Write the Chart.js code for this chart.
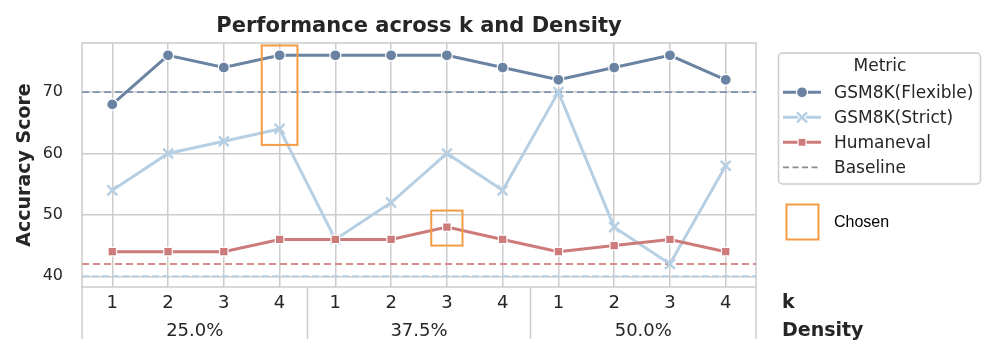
<!DOCTYPE html>
<html>
<head>
<meta charset="utf-8">
<script src="https://cdn.jsdelivr.net/npm/chart.js@4/dist/chart.umd.min.js"></script>
<style>
html,body{margin:0;padding:0;background:#fff;}
canvas{display:block;}
</style>
</head>
<body>
<canvas id="c" width="996" height="356"></canvas>
<script>
// ---- data ----
const kLabels = ['1','2','3','4','1','2','3','4','1','2','3','4'];
const densityLabels = ['25.0%','37.5%','50.0%'];
const seriesNames = ['GSM8K(Flexible)','GSM8K(Strict)','Humaneval'];
const flexible = [68,76,74,76,76,76,76,74,72,74,76,72];
const strict   = [54,60,62,64,46,52,60,54,70,48,42,58];
const humaneval= [44,44,44,46,46,46,48,46,44,45,46,44];
const baselineFlexible = 70;
const baselineStrict = 40;
const baselineHumaneval = 42;
const yTicks = [40,50,60,70];
// chosen boxes (data coordinates)
const chosenX0 = [2.68, 5.72];
const chosenX1 = [3.32, 6.28];
const chosenY0 = [61.4, 45.0];
const chosenY1 = [77.6, 50.7];

const X_MIN = -0.543, X_MAX = 11.543, Y_MIN = 38.25, Y_MAX = 78;
const C_FLEX = '#6a83a3', C_STRICT = '#b7cfe3', C_HUM = '#cd7a7a', C_ORANGE = '#f59b45';
const TXT = '#262626';
const FONT = "'DejaVu Sans', sans-serif";

const pts = arr => arr.map((v,i)=>({x:i,y:v}));
const hline = v => [{x:X_MIN,y:v},{x:X_MAX,y:v}];

const overlay = {
  id:'overlay',
  beforeDatasetsDraw(chart){
    const {ctx, chartArea:a} = chart;
    ctx.save();
    ctx.strokeStyle = '#cccccc'; ctx.lineWidth = 1.5;
    ctx.strokeRect(a.left, a.top, a.right-a.left, a.bottom-a.top);
    ctx.restore();
  },
  afterDatasetsDraw(chart){
    const {ctx, chartArea:a, scales:{x,y}} = chart;
    ctx.save();
    // chosen boxes
    ctx.strokeStyle = C_ORANGE; ctx.lineWidth = 2;
    for (let i=0;i<chosenX0.length;i++){
      const x0 = x.getPixelForValue(chosenX0[i]), x1 = x.getPixelForValue(chosenX1[i]);
      const y0 = y.getPixelForValue(chosenY1[i]), y1 = y.getPixelForValue(chosenY0[i]);
      ctx.strokeRect(x0, y0, x1-x0, y1-y0);
    }
    ctx.restore();
  },
  afterDraw(chart){
    const {ctx, chartArea:a, scales:{x,y}} = chart;
    ctx.save();
    ctx.fillStyle = TXT;
    // title
    ctx.font = `bold 21px ${FONT}`;
    ctx.textAlign = 'center'; ctx.textBaseline = 'alphabetic';
    ctx.fillText('Performance across k and Density', (a.left+a.right)/2, 32);
    // y axis title
    ctx.save();
    ctx.translate(25, (a.top+a.bottom)/2);
    ctx.rotate(-Math.PI/2);
    ctx.font = `bold 19px ${FONT}`;
    ctx.textBaseline = 'middle';
    ctx.fillText('Accuracy Score', 0, 0);
    ctx.restore();
    // k labels
    ctx.font = `18px ${FONT}`;
    ctx.textBaseline = 'middle'; ctx.textAlign = 'center';
    kLabels.forEach((t,i)=>ctx.fillText(t, x.getPixelForValue(i), 303));
    // density labels and separators
    const bounds = [a.left];
    for (let g=1; g<densityLabels.length; g++) bounds.push(x.getPixelForValue(g*4-0.5));
    bounds.push(a.right);
    ctx.strokeStyle = '#cccccc'; ctx.lineWidth = 1.5;
    bounds.forEach(b=>{ ctx.beginPath(); ctx.moveTo(b, a.bottom); ctx.lineTo(b, 339); ctx.stroke(); });
    densityLabels.forEach((t,g)=>ctx.fillText(t, (bounds[g]+bounds[g+1])/2, 331));
    // axis level names
    ctx.font = `bold 19px ${FONT}`; ctx.textAlign = 'left';
    ctx.fillText('k', 782, 303);
    ctx.fillText('Density', 782, 331);
    // legend box
    ctx.beginPath();
    ctx.roundRect(778.5, 53, 202, 131, 4);
    ctx.fillStyle = 'rgba(255,255,255,0.85)'; ctx.fill();
    ctx.strokeStyle = '#cccccc'; ctx.lineWidth = 1.5; ctx.stroke();
    ctx.fillStyle = TXT;
    ctx.font = `17px ${FONT}`; ctx.textAlign = 'center';
    ctx.fillText('Metric', 880, 67);
    const rows = [92.3, 117.3, 142.3, 167.3];
    const cols = [C_FLEX, C_STRICT, C_HUM, '#8c8c8c'];
    const names = seriesNames.concat(['Baseline']);
    rows.forEach((ry,i)=>{
      ctx.strokeStyle = cols[i];
      if (i===3){ ctx.setLineDash([6,3.5]); ctx.lineWidth = 1.8; } else { ctx.setLineDash([]); ctx.lineWidth = 3; }
      ctx.beginPath(); ctx.moveTo(783, ry); ctx.lineTo(821, ry); ctx.stroke();
      ctx.setLineDash([]);
      if (i===0){
        ctx.beginPath(); ctx.arc(802, ry, 5.5, 0, Math.PI*2);
        ctx.fillStyle = C_FLEX; ctx.fill(); ctx.strokeStyle='#fff'; ctx.lineWidth=1.2; ctx.stroke();
      } else if (i===1){
        ctx.strokeStyle='#fff'; ctx.lineWidth=4.5;
        ctx.beginPath(); ctx.moveTo(797,ry-5); ctx.lineTo(807,ry+5); ctx.moveTo(807,ry-5); ctx.lineTo(797,ry+5); ctx.stroke();
        ctx.strokeStyle=C_STRICT; ctx.lineWidth=2.5;
        ctx.beginPath(); ctx.moveTo(797,ry-5); ctx.lineTo(807,ry+5); ctx.moveTo(807,ry-5); ctx.lineTo(797,ry+5); ctx.stroke();
      } else if (i===2){
        ctx.fillStyle = C_HUM; ctx.fillRect(798, ry-4, 8, 8);
        ctx.strokeStyle='#fff'; ctx.lineWidth=1.2; ctx.strokeRect(798, ry-4, 8, 8);
      }
      ctx.fillStyle = TXT; ctx.font = `17px ${FONT}`; ctx.textAlign='left'; ctx.textBaseline='middle';
      ctx.fillText(names[i], 834, ry+1);
    });
    // chosen legend
    ctx.strokeStyle = C_ORANGE; ctx.lineWidth = 2;
    ctx.strokeRect(786.5, 204.5, 32, 35);
    ctx.fillStyle = '#000';
    ctx.font = "16px 'Liberation Sans', Arial, sans-serif";
    ctx.fillText('Chosen', 834, 223);
    ctx.restore();
  }
};

new Chart(document.getElementById('c'), {
  type:'line',
  data:{
    datasets:[
      {label:seriesNames[0], data:pts(flexible), borderColor:C_FLEX, backgroundColor:C_FLEX, borderWidth:3,
       pointStyle:'circle', pointRadius:5.5, pointBackgroundColor:C_FLEX, pointBorderColor:'#fff', pointBorderWidth:1.2, order:3},
      {label:seriesNames[1], data:pts(strict), borderColor:C_STRICT, backgroundColor:C_STRICT, borderWidth:3,
       pointStyle:'crossRot', pointRadius:7, pointBorderColor:C_STRICT, pointBorderWidth:2.5, order:2},
      {label:seriesNames[2], data:pts(humaneval), borderColor:C_HUM, backgroundColor:C_HUM, borderWidth:3,
       pointStyle:'rect', pointRadius:6, pointBackgroundColor:C_HUM, pointBorderColor:'#fff', pointBorderWidth:1.2, order:1},
      {label:'b1', data:hline(baselineFlexible), borderColor:'#7f94b1', borderWidth:1.8, borderDash:[7,4], pointRadius:0, order:10},
      {label:'b2', data:hline(baselineStrict), borderColor:C_STRICT, borderWidth:1.8, borderDash:[7,3], pointRadius:0, order:11},
      {label:'b3', data:hline(baselineHumaneval), borderColor:'#d98c8c', borderWidth:1.8, borderDash:[7,4], pointRadius:0, order:10}
    ]
  },
  options:{
    responsive:false, devicePixelRatio:1, animation:false,
    layout:{padding:{left:0,right:240,top:43,bottom:0}},
    plugins:{legend:{display:false}, tooltip:{enabled:false}, title:{display:false}},
    scales:{
      x:{type:'linear', min:X_MIN, max:X_MAX,
         afterBuildTicks:s=>{ s.ticks = kLabels.map((_,i)=>({value:i})); },
         afterFit:s=>{ s.height = 69; },
         ticks:{display:false},
         grid:{color:'#cccccc', lineWidth:1.5, drawTicks:false},
         border:{display:false}},
      y:{min:Y_MIN, max:Y_MAX,
         afterBuildTicks:s=>{ s.ticks = yTicks.map(v=>({value:v})); },
         afterFit:s=>{ s.width = 82; },
         ticks:{font:{family:FONT,size:16}, color:TXT, padding:19},
         grid:{color:'#cccccc', lineWidth:1.5, drawTicks:false},
         border:{display:false}}
    }
  },
  plugins:[overlay]
});
</script>
</body>
</html>
